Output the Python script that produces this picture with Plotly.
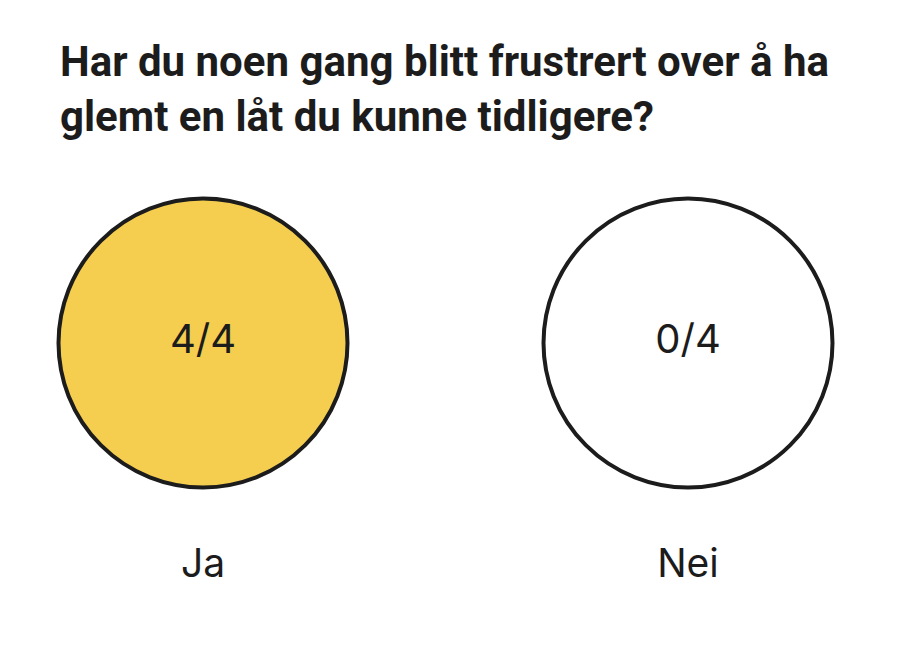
import plotly.graph_objects as go

# Data
categories = ["Ja", "Nei"]
counts = [4, 0]
total = 4
title_lines = ["Har du noen gang blitt frustrert over å ha", "glemt en låt du kunne tidligere?"]

YELLOW = "#F5CE50"
INK = "#1c1c1c"

fills = [YELLOW if c > 0 else "#ffffff" for c in counts]
texts = [f"{c}/{total}" for c in counts]

fig = go.Figure(
    go.Scatter(
        x=categories,
        y=[0, 0],
        mode="markers+text",
        marker=dict(size=289, color=fills, line=dict(color=INK, width=4)),
        text=texts,
        textposition="middle center",
        textfont=dict(family="Inter", size=40, color=INK),
        cliponaxis=False,
        hoverinfo="skip",
    )
)

W, H = 908, 654
OFF = 8  # page body margin
top, bottom = 180, 129
plot_h = H - top - bottom
cy = 343 - OFF  # pixel centre of circles
frac_top = (cy - top) / plot_h
x0_px, x1_px = 203 - OFF, 688 - OFF
scale = x1_px - x0_px

fig.update_layout(
    width=W,
    height=H,
    margin=dict(l=0, r=0, t=top, b=bottom, pad=0),
    paper_bgcolor="white",
    plot_bgcolor="white",
    showlegend=False,
    title=dict(
        text="<br>".join(title_lines),
        x=52 / W,
        xanchor="left",
        xref="container",
        y=1 - 68 / H,
        yanchor="top",
        yref="container",
        font=dict(family="Roboto", size=42, color=INK, weight="bold"),
    ),
    xaxis=dict(
        type="category",
        range=[-x0_px / scale, (W - x0_px) / scale],
        showgrid=False,
        zeroline=False,
        showline=False,
        ticks="",
        tickfont=dict(family="Inter", size=39, color=INK),
        ticklabelstandoff=4,
        fixedrange=True,
    ),
    yaxis=dict(
        range=[-(1 - frac_top), frac_top],
        visible=False,
        fixedrange=True,
    ),
)

fig.write_html("out.html")
